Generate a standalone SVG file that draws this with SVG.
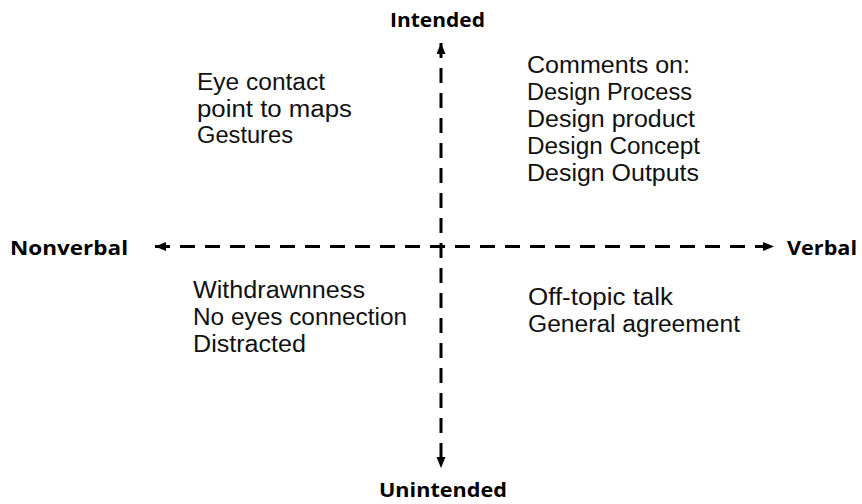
<svg xmlns="http://www.w3.org/2000/svg" width="862" height="504" viewBox="0 0 862 504">
  <style>
    .axis { stroke: #000; stroke-width: 3; stroke-dasharray: 15 10; fill: none; }
    .pole { font-family: "Open Sans", "Noto Sans", "Liberation Sans", sans-serif; font-weight: bold; font-size: 20px; fill: #000; }
    .item { font-family: "Liberation Sans", "Noto Sans", sans-serif; font-size: 23px; fill: #111; }
  </style>
  <defs>
    <marker id="head" markerUnits="userSpaceOnUse" markerWidth="12" markerHeight="10" refX="11" refY="4.5" orient="auto-start-reverse">
      <path d="M0,0 L11,4.5 L0,9 z" fill="#000"/>
    </marker>
  </defs>
  <rect width="862" height="504" fill="#fff"/>

  <!-- axes -->
  <g id="connectors">
    <line class="axis" x1="441" y1="43" x2="441" y2="468" marker-start="url(#head)" marker-end="url(#head)"/>
    <line class="axis" x1="155" y1="246.5" x2="774" y2="246.5" marker-start="url(#head)" marker-end="url(#head)"/>
  </g>

  <!-- pole labels -->
  <g id="intended"><text class="pole" x="390" y="27" textLength="95" lengthAdjust="spacingAndGlyphs">Intended</text></g>
  <g id="unintended"><text class="pole" x="379" y="497" textLength="128" lengthAdjust="spacingAndGlyphs">Unintended</text></g>
  <g id="nonverbal"><text class="pole" x="10" y="255" textLength="118" lengthAdjust="spacingAndGlyphs">Nonverbal</text></g>
  <g id="verbal"><text class="pole" x="787" y="255" textLength="70" lengthAdjust="spacingAndGlyphs">Verbal</text></g>

  <!-- quadrant contents -->
  <g id="q-nonverbal-intended">
    <text class="item" x="197" y="90" textLength="128" lengthAdjust="spacingAndGlyphs">Eye contact</text>
    <text class="item" x="197" y="117" textLength="155" lengthAdjust="spacingAndGlyphs">point to maps</text>
    <text class="item" x="197" y="143" textLength="96" lengthAdjust="spacingAndGlyphs">Gestures</text>
  </g>
  <g id="q-verbal-intended">
    <text class="item" x="527" y="73" textLength="163" lengthAdjust="spacingAndGlyphs">Comments on:</text>
    <text class="item" x="527" y="100" textLength="165" lengthAdjust="spacingAndGlyphs">Design Process</text>
    <text class="item" x="527" y="127" textLength="168" lengthAdjust="spacingAndGlyphs">Design product</text>
    <text class="item" x="527" y="154" textLength="173" lengthAdjust="spacingAndGlyphs">Design Concept</text>
    <text class="item" x="527" y="181" textLength="172" lengthAdjust="spacingAndGlyphs">Design Outputs</text>
  </g>
  <g id="q-nonverbal-unintended">
    <text class="item" x="193" y="298" textLength="172" lengthAdjust="spacingAndGlyphs">Withdrawnness</text>
    <text class="item" x="193" y="325" textLength="214" lengthAdjust="spacingAndGlyphs">No eyes connection</text>
    <text class="item" x="193" y="352" textLength="113" lengthAdjust="spacingAndGlyphs">Distracted</text>
  </g>
  <g id="q-verbal-unintended">
    <text class="item" x="528" y="305" textLength="145" lengthAdjust="spacingAndGlyphs">Off-topic talk</text>
    <text class="item" x="528" y="332" textLength="212" lengthAdjust="spacingAndGlyphs">General agreement</text>
  </g>
</svg>
